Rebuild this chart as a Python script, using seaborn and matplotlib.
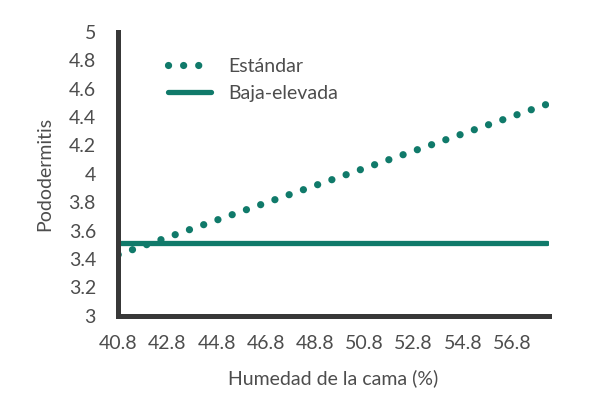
import pandas as pd
import numpy as np
import matplotlib
matplotlib.use('Agg')
import matplotlib.pyplot as plt
import seaborn as sns

# Data
humedad = [40.8, 58.2]
estandar = [3.43, 4.49]
baja_elevada = [3.51, 3.51]
xticks = [40.8, 42.8, 44.8, 46.8, 48.8, 50.8, 52.8, 54.8, 56.8]
yticks = [3, 3.2, 3.4, 3.6, 3.8, 4, 4.2, 4.4, 4.6, 4.8, 5]

teal = '#107a6a'
grey_txt = '#4d4d4d'

sns.set_style('white')
plt.rcParams['font.family'] = ['Lato', 'DejaVu Sans']

df = pd.DataFrame({'x': humedad * 2,
                   'y': estandar + baja_elevada,
                   'serie': ['Estándar'] * 2 + ['Baja-elevada'] * 2})

fig, ax = plt.subplots(figsize=(6, 4.11), dpi=100)
fig.subplots_adjust(left=0.197, right=0.915, top=0.922, bottom=0.232)

sns.lineplot(data=df[df['serie'] == 'Estándar'], x='x', y='y', ax=ax, color=teal,
             linewidth=5.2, label='Estándar')
ax.lines[-1].set_linestyle((0, (0.01, 2.08)))
ax.lines[-1].set_dash_capstyle('round')
sns.lineplot(data=df[df['serie'] == 'Baja-elevada'], x='x', y='y', ax=ax, color=teal,
             linewidth=3.8, label='Baja-elevada', solid_capstyle='round')

ax.set_xlim(40.8, 58.3)
ax.set_ylim(3, 5)
ax.set_xticks(xticks)
ax.set_xticklabels([str(v) for v in xticks])
ax.set_yticks(yticks)
ax.set_yticklabels([('%g' % v) for v in yticks])
ax.tick_params(axis='both', length=0, labelsize=14, colors=grey_txt)
ax.tick_params(axis='x', pad=14)
ax.tick_params(axis='y', pad=16)

for s in ['top', 'right']:
    ax.spines[s].set_visible(False)
for s in ['left', 'bottom']:
    ax.spines[s].set_color('#383838')
    ax.spines[s].set_linewidth(3.6)
    ax.spines[s].set_capstyle('projecting')

ax.set_xlabel('Humedad de la cama (%)', fontsize=14, color=grey_txt, labelpad=12)
ax.set_ylabel('Pododermitis', fontsize=14, color=grey_txt, labelpad=11)

leg = ax.legend(loc='upper left', bbox_to_anchor=(0.075, 0.97), frameon=False,
                fontsize=14, handlelength=2.2, labelspacing=0.5, handletextpad=0.9)
for t in leg.get_texts():
    t.set_color(grey_txt)

fig.savefig('out.png', dpi=100)
